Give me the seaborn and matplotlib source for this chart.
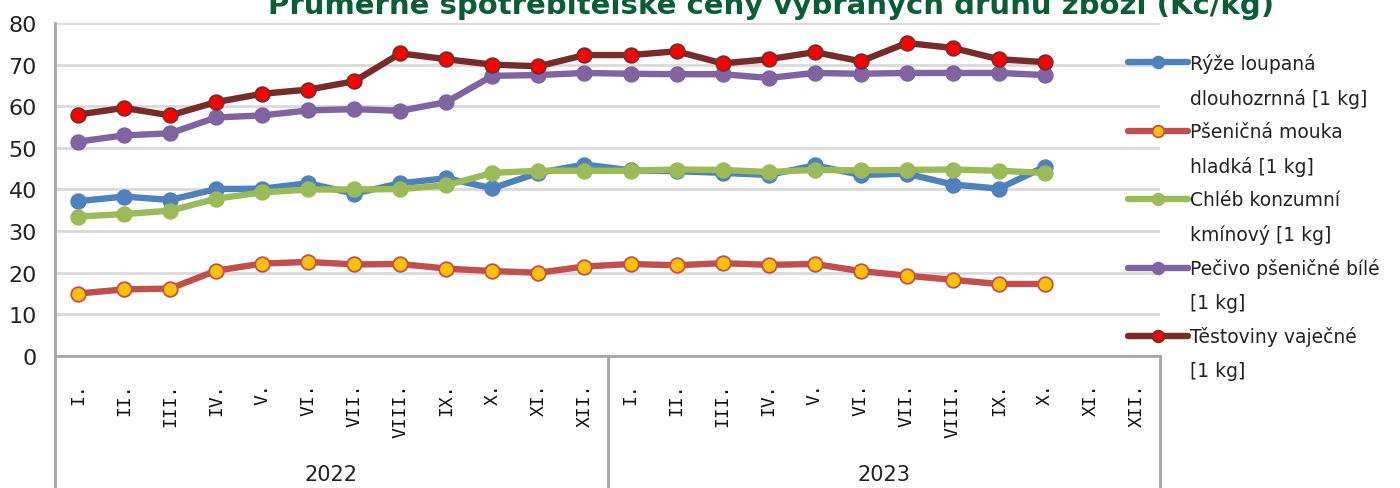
import matplotlib
matplotlib.use("Agg")
import matplotlib.pyplot as plt
from matplotlib.lines import Line2D
import seaborn as sns
import numpy as np
import pandas as pd

# ---- data ----
months = ["I.", "II.", "III.", "IV.", "V.", "VI.", "VII.", "VIII.", "IX.", "X.", "XI.", "XII."]
years = ["2022", "2023"]

ryze = [37.2, 38.3, 37.5, 40.1, 40.2, 41.5, 39.0, 41.5, 42.7, 40.3, 44.0, 46.0,
        44.6, 44.4, 44.0, 43.5, 45.8, 43.5, 43.8, 41.2, 40.2, 45.5]
mouka = [15.0, 16.0, 16.2, 20.5, 22.2, 22.6, 22.0, 22.1, 21.0, 20.4, 20.0, 21.5,
         22.1, 21.8, 22.3, 21.9, 22.1, 20.4, 19.3, 18.3, 17.3, 17.3]
chleb = [33.5, 34.1, 34.9, 37.8, 39.3, 40.0, 40.0, 40.1, 41.0, 44.0, 44.5, 44.5,
         44.5, 44.8, 44.7, 44.2, 44.7, 44.6, 44.7, 44.8, 44.5, 44.0]
pecivo = [51.5, 53.0, 53.5, 57.3, 57.8, 59.0, 59.3, 58.9, 61.0, 67.3, 67.5, 68.0,
          67.8, 67.7, 67.7, 66.8, 68.0, 67.8, 68.0, 68.0, 68.0, 67.5]
testoviny = [58.0, 59.6, 57.8, 61.0, 63.0, 64.0, 66.0, 72.7, 71.3, 70.0, 69.6, 72.3,
             72.3, 73.2, 70.3, 71.3, 73.0, 70.8, 75.2, 74.0, 71.3, 70.6]

series_names = ["Rýže loupaná\ndlouhozrnná [1 kg]", "Pšeničná mouka\nhladká [1 kg]",
                "Chléb konzumní\nkmínový [1 kg]", "Pečivo pšeničné bílé\n[1 kg]",
                "Těstoviny vaječné\n[1 kg]"]
series_values = [ryze, mouka, chleb, pecivo, testoviny]
line_colors = ["#4F81BD", "#C0504D", "#9BBB59", "#8064A2", "#772C2A"]
face_colors = ["#4F81BD", "#FFC000", "#9BBB59", "#8064A2", "#FF0000"]

title = "Průměrné spotřebitelské ceny vybraných druhů zboží (Kč/kg)"

# ---- figure ----
sns.set_theme(style="white")
plt.rcParams['font.family'] = ['DejaVu Sans']

FW, FH = 1400, 489
fig = plt.figure(figsize=(FW / 100, FH / 100), dpi=100)
ax_left, ax_right, ax_top, ax_bottom = 55, 1160, 24, 357
ax = fig.add_axes([ax_left / FW, 1 - ax_bottom / FH,
                   (ax_right - ax_left) / FW, (ax_bottom - ax_top) / FH])

tick_labels = [m for _ in years for m in months]
n_cat = len(tick_labels)

for name, vals, lc, fc in zip(series_names, series_values, line_colors, face_colors):
    df = pd.DataFrame({"x": np.arange(len(vals)), "y": vals})
    sns.lineplot(data=df, x="x", y="y", ax=ax, color=lc, linewidth=4.6,
                 marker="o", markersize=10.5, markerfacecolor=fc,
                 markeredgecolor=lc, markeredgewidth=1.3, label=name, zorder=3)
if ax.get_legend() is not None:
    ax.get_legend().remove()

ax.set_xlim(-0.5, n_cat - 0.5)
ax.set_ylim(0, 80)
ax.set_yticks(np.arange(0, 81, 10))
ax.yaxis.grid(True, color="#D9D9D9", linewidth=2)
ax.xaxis.grid(False)
ax.set_xlabel("")
ax.set_ylabel("")

ax.set_xticks(np.arange(n_cat))
ax.set_xticklabels(tick_labels, rotation=90, va="top", ha="center",
                   fontsize=13, family=["DejaVu Sans Mono"])
ax.tick_params(axis="x", length=0, pad=19, colors="#111111")
ax.tick_params(axis="y", length=0, pad=13, labelsize=16, colors="#222222")
for lab in ax.get_yticklabels():
    lab.set_family(["Liberation Sans Narrow", "DejaVu Sans"])

for s in ["top", "right"]:
    ax.spines[s].set_visible(False)
for s in ["left", "bottom"]:
    ax.spines[s].set_color("#A6A6A6")
    ax.spines[s].set_linewidth(2)
    ax.spines[s].set_zorder(2)

# category separators below axis
trans = ax.get_xaxis_transform()
ax_h = ax_bottom - ax_top
bottom_frac = -(FH - ax_bottom) / ax_h
for xb in [-0.5, len(months) - 0.5, n_cat - 0.5]:
    ax.plot([xb, xb], [0, bottom_frac], transform=trans, color="#A6A6A6",
            linewidth=2, clip_on=False)

for i, yr in enumerate(years):
    ax.text(i * len(months) + (len(months) - 1) / 2, -(475 - ax_bottom) / ax_h, yr,
            transform=trans, ha="center", va="center", fontsize=15,
            family=["Liberation Sans Narrow", "DejaVu Sans"], color="#222222")

fig.text(0.5507, 1 - 14 / FH, title, ha="center", va="baseline",
         fontsize=21, fontweight="bold", color="#0B5D36")

# legend: one row per text line, handle on the first line of each entry
h_all, _ = ax.get_legend_handles_labels()
leg_handles, leg_labels = [], []
for h, name in zip(h_all, series_names):
    parts = name.split("\n")
    leg_handles.append(h)
    leg_labels.append(parts[0])
    for p in parts[1:]:
        leg_handles.append(Line2D([], [], linestyle="none", marker=None))
        leg_labels.append(p)

leg = fig.legend(leg_handles, leg_labels, loc="upper left",
                 bbox_to_anchor=(1128 / FW, 1 - 54 / FH), frameon=False,
                 fontsize=13.5, handlelength=3.2, handletextpad=0.12,
                 labelspacing=0.775, borderpad=0, borderaxespad=0,
                 markerscale=0.8)
for t in leg.get_texts():
    t.set_color("#222222")

fig.savefig("out.png", dpi=100)
